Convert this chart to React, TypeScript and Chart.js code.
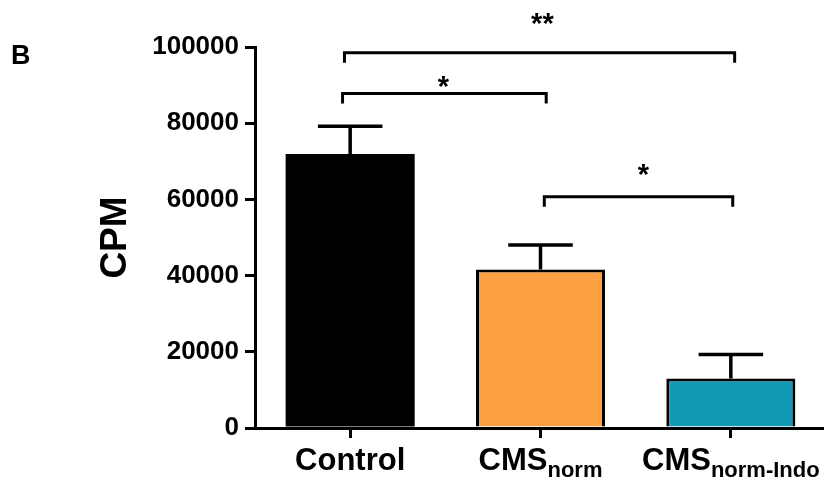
import React, { useEffect, useRef } from "react";
import { Chart, registerables } from "chart.js";

Chart.register(...registerables);

// ---- data ----
const categories = ["Control", "CMS", "CMS"];
const subscripts = ["", "norm", "norm-Indo"];
const means = [71900, 41600, 13000];
const sem = [7300, 6400, 6300];
const barColors = ["#000000", "#FCA042", "#1399B4"];
const yMin = 0;
const yMax = 100000;
const yStep = 20000;
const yTitle = "CPM";
const panelLabel = "B";
// significance brackets (x in category index units, y in CPM)
const bracketFrom = [-0.03, -0.04, 1.02];
const bracketTo = [2.02, 1.03, 2.01];
const bracketLevel = [98500, 87800, 60700];
const bracketText = ["**", "*", "*"];
const bracketTextX = [1.01, 0.49, 1.54];
const bracketTextLevel = [107400, 90900, 67800];

const FONT = "Arial, 'Liberation Sans', Helvetica, sans-serif";

const overlayPlugin = {
  id: "overlay",
  afterDatasetsDraw(chart: any) {
    const ctx = chart.ctx;
    const x = chart.scales.x;
    const y = chart.scales.y;
    const meta = chart.getDatasetMeta(0);
    ctx.save();
    ctx.strokeStyle = "#000";
    ctx.lineWidth = 3.5;
    ctx.lineCap = "butt";
    // error bars
    meta.data.forEach((bar: any, i: number) => {
      const yb = y.getPixelForValue(means[i]);
      const yt = y.getPixelForValue(means[i] + sem[i]);
      const half = bar.width * 0.25;
      ctx.beginPath();
      ctx.moveTo(bar.x, yb);
      ctx.lineTo(bar.x, yt);
      ctx.moveTo(bar.x - half, yt);
      ctx.lineTo(bar.x + half, yt);
      ctx.stroke();
    });
    // brackets
    ctx.lineWidth = 3;
    ctx.lineJoin = "miter";
    for (let i = 0; i < bracketLevel.length; i++) {
      const x1 = x.getPixelForValue(bracketFrom[i]);
      const x2 = x.getPixelForValue(bracketTo[i]);
      const yl = y.getPixelForValue(bracketLevel[i]);
      ctx.beginPath();
      ctx.moveTo(x1, yl + 10);
      ctx.lineTo(x1, yl);
      ctx.lineTo(x2, yl);
      ctx.lineTo(x2, yl + 10);
      ctx.stroke();
      ctx.font = `bold 29px ${FONT}`;
      ctx.fillStyle = "#000";
      ctx.textAlign = "center";
      ctx.textBaseline = "alphabetic";
      const m = ctx.measureText(bracketText[i]);
      const yc = y.getPixelForValue(bracketTextLevel[i]);
      const base = yc - (m.actualBoundingBoxDescent - m.actualBoundingBoxAscent) / 2;
      ctx.fillText(bracketText[i], x.getPixelForValue(bracketTextX[i]), base);
    }
    ctx.restore();
  },
  afterDraw(chart: any) {
    const ctx = chart.ctx;
    const x = chart.scales.x;
    const area = chart.chartArea;
    ctx.save();
    ctx.fillStyle = "#000";
    ctx.textBaseline = "alphabetic";
    ctx.textAlign = "left";
    // x labels with subscripts
    categories.forEach((c, i) => {
      const cx = x.getPixelForValue(i);
      ctx.font = `bold 31px ${FONT}`;
      const w1 = ctx.measureText(c).width;
      ctx.font = `bold 22px ${FONT}`;
      const w2 = subscripts[i] ? ctx.measureText(subscripts[i]).width : 0;
      const start = cx - (w1 + w2) / 2;
      ctx.font = `bold 31px ${FONT}`;
      ctx.fillText(c, start, area.bottom + 42);
      if (subscripts[i]) {
        ctx.font = `bold 22px ${FONT}`;
        ctx.fillText(subscripts[i], start + w1, area.bottom + 49);
      }
    });
    // y title
    ctx.save();
    ctx.translate(116, (area.top + area.bottom) / 2);
    ctx.rotate(-Math.PI / 2);
    ctx.font = `bold 37px ${FONT}`;
    ctx.textAlign = "center";
    ctx.textBaseline = "middle";
    ctx.fillText(yTitle, 0, 0);
    ctx.restore();
    // panel label
    ctx.font = `bold 27px ${FONT}`;
    ctx.textAlign = "left";
    ctx.fillText(panelLabel, 11, 64);
    ctx.restore();
  },
};

export default function App() {
  const ref = useRef<HTMLCanvasElement>(null);
  useEffect(() => {
    if (!ref.current) return;
    const chart = new Chart(ref.current, {
      type: "bar",
      data: {
        labels: categories.map((c, i) => c + subscripts[i]),
        datasets: [
          {
            data: means,
            backgroundColor: barColors,
            borderColor: "#000",
            borderWidth: [0, 3, 3],
            borderSkipped: "start",
            barPercentage: 0.678,
            categoryPercentage: 1,
          },
        ],
      },
      options: {
        animation: false,
        responsive: false,
        devicePixelRatio: 1,
        layout: { padding: { top: 47, right: 4, bottom: 0, left: 0 } },
        plugins: {
          legend: { display: false },
          tooltip: { enabled: false },
          title: { display: false },
        },
        scales: {
          x: {
            offset: true,
            grid: {
              display: true,
              offset: false,
              drawOnChartArea: false,
              drawTicks: true,
              tickLength: 10,
              lineWidth: 3,
              color: "#000",
            },
            border: { display: true, width: 3, color: "#000" },
            ticks: { display: false },
            afterFit: (s: any) => {
              s.height = 56;
            },
          },
          y: {
            min: yMin,
            max: yMax,
            grid: {
              display: true,
              drawOnChartArea: false,
              drawTicks: true,
              tickLength: 10,
              lineWidth: 3,
              color: "#000",
            },
            border: { display: true, width: 3, color: "#000" },
            ticks: {
              stepSize: yStep,
              padding: 6,
              color: "#000",
              font: { family: FONT, size: 26, weight: "bold" },
              callback: (v: any) => String(v),
            },
            afterFit: (s: any) => {
              s.width = 255;
            },
          },
        },
      },
      plugins: [overlayPlugin],
    });
    return () => chart.destroy();
  }, []);
  return (
    <div
      style={{
        position: "fixed",
        left: 0,
        top: 0,
        width: 824,
        height: 484,
        overflow: "hidden",
        background: "#fff",
      }}
    >
      <canvas ref={ref} width={830} height={484} style={{ display: "block" }} />
    </div>
  );
}
